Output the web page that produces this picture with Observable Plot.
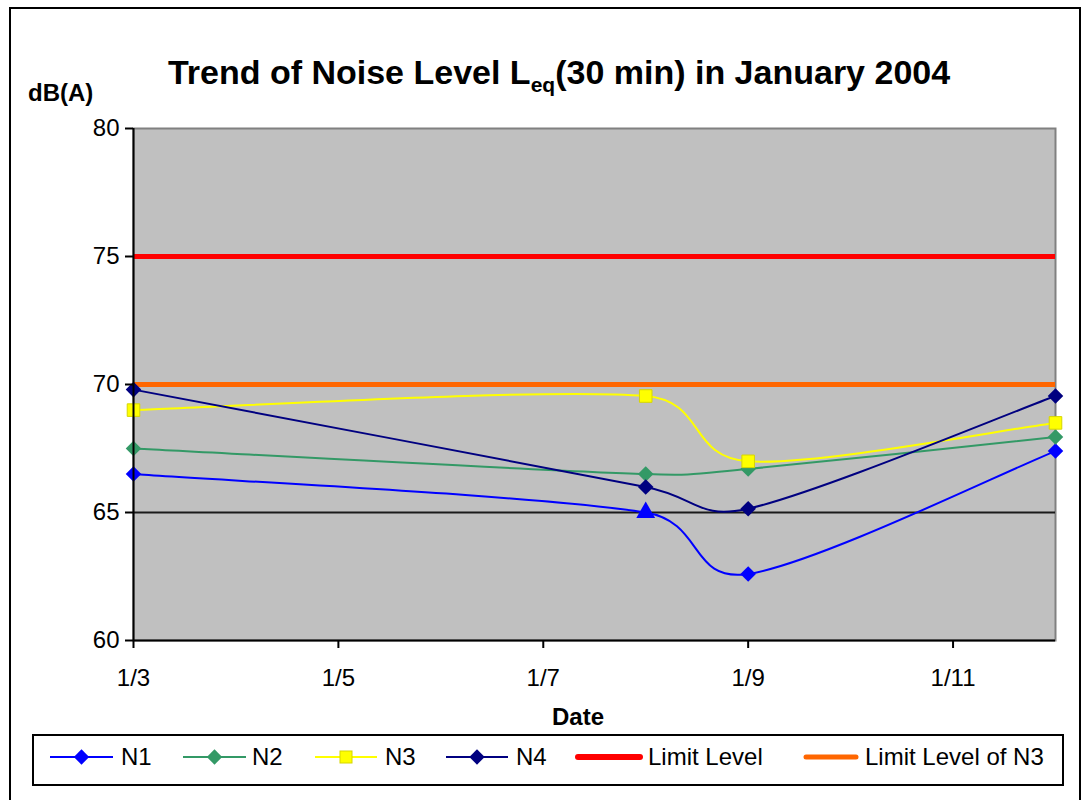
<!DOCTYPE html>
<html><head><meta charset="utf-8">
<script src="https://cdn.jsdelivr.net/npm/d3@7"></script>
<script src="https://cdn.jsdelivr.net/npm/@observablehq/plot@0.6"></script>
<style>
body{margin:0;background:#fff;font-family:"Liberation Sans",Arial,sans-serif;}
#wrap{position:relative;width:1082px;height:800px;overflow:hidden;background:#fff;}
#border{position:absolute;left:9px;top:7px;width:1072px;height:830px;border:2px solid #000;box-sizing:border-box;}
#title{position:absolute;left:0;width:1118px;top:53px;text-align:center;font-weight:bold;font-size:34px;color:#000;white-space:nowrap;}
#title sub{font-size:21px;vertical-align:baseline;position:relative;top:8px;}
#ylab{position:absolute;left:28px;top:79px;font-weight:bold;font-size:24px;}
#xlab{position:absolute;left:478px;width:200px;top:703px;text-align:center;font-weight:bold;font-size:24px;}
#chart{position:absolute;left:0;top:100px;}
#legend{position:absolute;left:0;top:0;}
</style></head>
<body>
<div id="wrap">
  <div id="border"></div>
  <div id="title">Trend of Noise Level L<sub>eq</sub>(30 min) in January 2004</div>
  <div id="ylab">dB(A)</div>
  <div id="chart"></div>
  <div id="xlab">Date</div>
  <svg id="legend" width="1082" height="800"></svg>
</div>
<script>
// ---- data ----
const dates = ["2004-01-03", "2004-01-08", "2004-01-09", "2004-01-12"];
const n1 = [66.5, 65.0, 62.6, 67.4];
const n2 = [67.5, 66.5, 66.7, 67.95];
const n3 = [69.0, 69.55, 67.0, 68.5];
const n4 = [69.8, 66.0, 65.15, 69.55];
const limitLevel = 75;
const limitLevelN3 = 70;
const refLine = 65;
const xTicks = ["2004-01-03", "2004-01-05", "2004-01-07", "2004-01-09", "2004-01-11"];
const yTicks = [60, 65, 70, 75, 80];
const seriesNames = ["N1", "N2", "N3", "N4"];

const toDate = s => new Date(s + "T00:00:00Z");
const seriesValues = [n1, n2, n3, n4];
const rows = seriesNames.map((name, k) => dates.map((d, i) => ({series: name, date: toDate(d), value: seriesValues[k][i], i})));

const colors = {N1: "#0000ff", N2: "#339966", N3: "#ffff00", N4: "#000080"};
const x0 = toDate(dates[0]), x1 = toDate(dates[dates.length - 1]);

// Spreadsheet-style smoothed line (Bezier, control arms limited to half the segment)
function SmoothCurve(context) { this._context = context; }
SmoothCurve.prototype = {
  areaStart() { this._line = 0; },
  areaEnd() { this._line = NaN; },
  lineStart() { this._pts = []; },
  point(x, y) { this._pts.push([+x, +y]); },
  lineEnd() {
    const p = this._pts, c = this._context, n = p.length;
    if (!n) return;
    c.moveTo(p[0][0], p[0][1]);
    const dist = (a, b) => Math.hypot(b[0] - a[0], b[1] - a[1]);
    for (let i = 0; i < n - 1; i++) {
      const P0 = p[i - 1] || p[i], P1 = p[i], P2 = p[i + 1], P3 = p[i + 2] || p[i + 1];
      const d12 = dist(P1, P2), d02 = dist(P0, P2), d13 = dist(P1, P3);
      let f1 = 1 / 6, f2 = 1 / 6;
      if (d02 / 6 >= d12 / 2) f1 = d12 / d02 / 2;
      if (d13 / 6 >= d12 / 2) f2 = d12 / d13 / 2;
      const b1 = [P1[0] + (P2[0] - P0[0]) * f1, P1[1] + (P2[1] - P0[1]) * f1];
      const b2 = [P2[0] - (P3[0] - P1[0]) * f2, P2[1] - (P3[1] - P1[1]) * f2];
      c.bezierCurveTo(b1[0], b1[1], b2[0], b2[1], P2[0], P2[1]);
    }
  }
};
const smooth = ctx => new SmoothCurve(ctx);

const lineMarks = rows.map(r => Plot.line(r, {x: "date", y: "value", stroke: colors[r[0].series], strokeWidth: 2, curve: smooth}));

const dotMarks = [
  Plot.dot(rows[0].filter(d => d.i !== 1), {x: "date", y: "value", symbol: "diamond2", r: 7, fill: colors.N1, stroke: "none"}),
  Plot.dot(rows[0].filter(d => d.i === 1), {x: "date", y: "value", symbol: "triangle2", r: 9, fill: colors.N1, stroke: "none"}),
  Plot.dot(rows[1], {x: "date", y: "value", symbol: "diamond2", r: 7, fill: colors.N2, stroke: "none"}),
  Plot.dot(rows[2], {x: "date", y: "value", symbol: "square2", r: 8, fill: colors.N3, stroke: "#d6d600", strokeWidth: 1}),
  Plot.dot(rows[3], {x: "date", y: "value", symbol: "diamond2", r: 7, fill: colors.N4, stroke: "none"})
];

const chart = Plot.plot({
  width: 1082,
  height: 640,
  marginLeft: 133,
  marginRight: 27,
  marginTop: 28,
  marginBottom: 100,
  style: {fontFamily: "'Liberation Sans', Arial, sans-serif", fontSize: "24px", background: "transparent", overflow: "visible", color: "#000"},
  x: {type: "utc", domain: [x0, x1]},
  y: {domain: [60, 80]},
  marks: [
    Plot.frame({fill: "#c0c0c0", stroke: "#808080", strokeWidth: 2}),
    Plot.ruleY([refLine], {stroke: "#1a1a1a", strokeWidth: 2}),
    Plot.ruleY([limitLevel], {stroke: "#ff0000", strokeWidth: 5}),
    Plot.ruleY([limitLevelN3], {stroke: "#ff6600", strokeWidth: 5}),
    ...lineMarks,
    ...dotMarks,
    Plot.ruleX([x0], {stroke: "#000", strokeWidth: 2}),
    Plot.ruleY([60], {stroke: "#000", strokeWidth: 2}),
    Plot.axisX({ticks: xTicks.map(toDate), tickFormat: d => `${d.getUTCMonth() + 1}/${d.getUTCDate()}`, tickSize: 8, tickPadding: 20, label: null, fontSize: 24, strokeWidth: 2}),
    Plot.axisY({ticks: yTicks, tickSize: 8, tickPadding: 6, label: null, fontSize: 24, strokeWidth: 2})
  ]
});
document.getElementById("chart").appendChild(chart);

// ---- legend ----
const lg = d3.select("#legend");
lg.append("rect").attr("x", 33).attr("y", 735).attr("width", 1030).attr("height", 50)
  .attr("fill", "#fff").attr("stroke", "#000").attr("stroke-width", 2);
const ly = 757;
const legendItems = [
  {name: "N1", x: 50, w: 63, color: colors.N1, sym: "diamond", sw: 2, tx: 121},
  {name: "N2", x: 183, w: 63, color: colors.N2, sym: "diamond", sw: 2, tx: 252},
  {name: "N3", x: 315, w: 62, color: colors.N3, sym: "square", sw: 2, tx: 385},
  {name: "N4", x: 446, w: 62, color: colors.N4, sym: "diamond", sw: 2, tx: 516},
  {name: "Limit Level", x: 578, w: 62, color: "#ff0000", sym: null, sw: 6, tx: 648},
  {name: "Limit Level of N3", x: 806, w: 50, color: "#ff6600", sym: null, sw: 5, tx: 865}
];
legendItems.forEach(it => {
  lg.append("line").attr("x1", it.x).attr("x2", it.x + it.w).attr("y1", ly).attr("y2", ly)
    .attr("stroke", it.color).attr("stroke-width", it.sw).attr("stroke-linecap", it.sym ? "butt" : "round");
  const cx = it.x + it.w / 2;
  if (it.sym === "diamond") {
    lg.append("path").attr("d", d3.symbol(d3.symbolDiamond2, 150)()).attr("transform", `translate(${cx},${ly})`).attr("fill", it.color);
  } else if (it.sym === "square") {
    lg.append("rect").attr("x", cx - 6).attr("y", ly - 6).attr("width", 12).attr("height", 12).attr("fill", it.color).attr("stroke", "#d6d600");
  }
  lg.append("text").attr("x", it.tx).attr("y", ly).attr("dy", "0.35em").attr("font-size", 24)
    .attr("font-family", "'Liberation Sans', Arial, sans-serif").text(it.name);
});
</script>
</body></html>
